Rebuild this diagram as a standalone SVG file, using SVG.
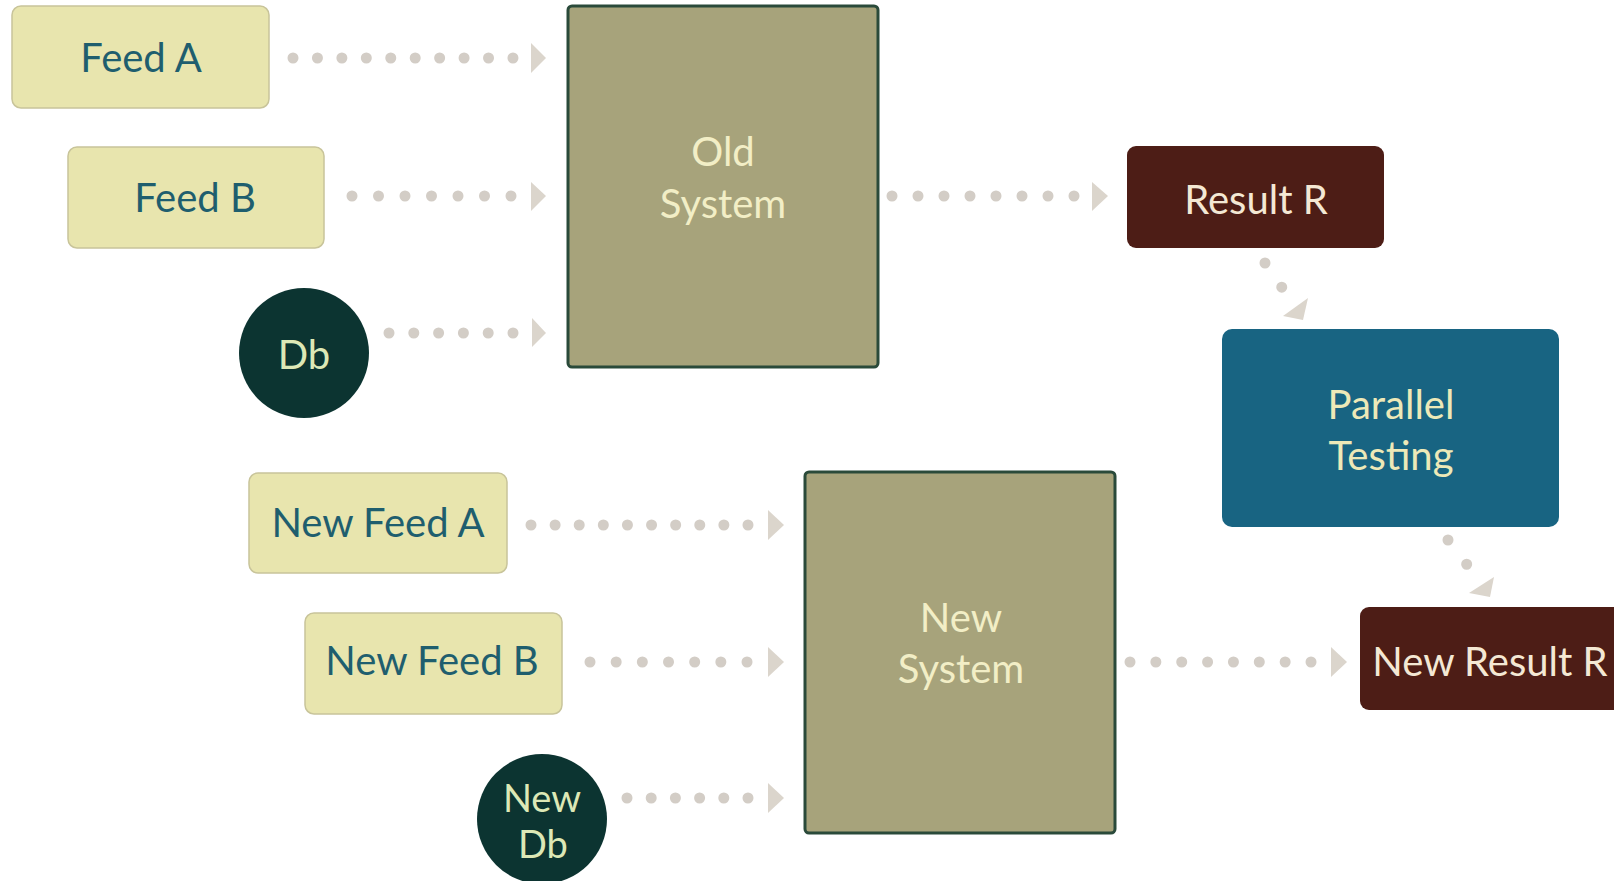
<svg xmlns="http://www.w3.org/2000/svg" width="1614" height="881" viewBox="0 0 1614 881">
<style>
  text { font-family: Lato, "Open Sans", "Liberation Sans", sans-serif; font-size: 40px; text-anchor: middle; }
  .feed { fill: #e8e5ae; stroke: #c8c49a; stroke-width: 1.5; }
  .feedt { fill: #1f5e6e; }
  .sys { fill: #a7a37b; stroke: #2a4a3a; stroke-width: 3; }
  .syst { fill: #f2eec6; }
  .db { fill: #0c3431; }
  .dbt { fill: #dde8b6; }
  .res { fill: #4d1d16; }
  .rest { fill: #f4e8d4; }
  .par { fill: #186482; }
  .part { fill: #ede9b8; }
  .dots { stroke: #d3cdc6; stroke-width: 11; stroke-linecap: round; fill: none; }
  .head { fill: #dbd5cc; }
</style>
<rect width="1614" height="881" fill="#ffffff"/>

<g id="connectors">
  <line class="dots" x1="293" y1="58" x2="515" y2="58" stroke-dasharray="0 24.44"/>
  <polygon class="head" points="531,43 546,58 531,73"/>
  <line class="dots" x1="352" y1="196" x2="513" y2="196" stroke-dasharray="0 26.5"/>
  <polygon class="head" points="531,182 546,196 531,211"/>
  <line class="dots" x1="389" y1="333" x2="515" y2="333" stroke-dasharray="0 24.8"/>
  <polygon class="head" points="532,318 546,333 532,347"/>
  <line class="dots" x1="892" y1="196" x2="1076" y2="196" stroke-dasharray="0 26"/>
  <polygon class="head" points="1092,182 1108,196 1092,211"/>
  <line class="dots" x1="1265" y1="263" x2="1283" y2="289" stroke-width="13" stroke-dasharray="0 29.41"/>
  <polygon class="head" points="1308,298 1283,316 1303,320"/>
  <line class="dots" x1="531" y1="525" x2="750" y2="525" stroke-dasharray="0 24.11"/>
  <polygon class="head" points="768,510 784,525 768,540"/>
  <line class="dots" x1="590" y1="662" x2="749" y2="662" stroke-dasharray="0 26.17"/>
  <polygon class="head" points="768,647 784,662 768,677"/>
  <line class="dots" x1="627" y1="798" x2="750" y2="798" stroke-dasharray="0 24.2"/>
  <polygon class="head" points="768,783 784,798 768,813"/>
  <line class="dots" x1="1130" y1="662" x2="1313" y2="662" stroke-dasharray="0 25.86"/>
  <polygon class="head" points="1331,647 1347,662 1331,677"/>
  <line class="dots" x1="1448" y1="540" x2="1468" y2="566" stroke-width="13" stroke-dasharray="0 30.61"/>
  <polygon class="head" points="1494,577 1469,593 1490,597"/>
</g>

<g id="feed-a">
  <rect class="feed" x="12" y="6" width="257" height="102" rx="9"/>
  <text class="feedt" x="141" y="72">Feed A</text>
</g>
<g id="feed-b">
  <rect class="feed" x="68" y="147" width="256" height="101" rx="9"/>
  <text class="feedt" x="195" y="212">Feed B</text>
</g>
<g id="db">
  <circle class="db" cx="304" cy="353" r="65"/>
  <text class="dbt" x="304" y="369">Db</text>
</g>
<g id="old-system">
  <rect class="sys" x="568" y="6" width="310" height="361" rx="4"/>
  <text class="syst"><tspan x="723" y="166">Old</tspan><tspan x="723" y="218">System</tspan></text>
</g>
<g id="result-r">
  <rect class="res" x="1127" y="146" width="257" height="102" rx="9"/>
  <text class="rest" x="1256" y="214">Result R</text>
</g>
<g id="parallel-testing">
  <rect class="par" x="1222" y="329" width="337" height="198" rx="10"/>
  <text class="part"><tspan x="1391" y="419">Parallel</tspan><tspan x="1391" y="470">Testing</tspan></text>
</g>
<g id="new-feed-a">
  <rect class="feed" x="249" y="473" width="258" height="100" rx="9"/>
  <text class="feedt" x="378" y="537">New Feed A</text>
</g>
<g id="new-feed-b">
  <rect class="feed" x="305" y="613" width="257" height="101" rx="9"/>
  <text class="feedt" x="432" y="675">New Feed B</text>
</g>
<g id="new-db">
  <circle class="db" cx="542" cy="819" r="65"/>
  <text class="dbt" style="font-size:38px"><tspan x="542" y="812">New</tspan><tspan x="543" y="858">Db</tspan></text>
</g>
<g id="new-system">
  <rect class="sys" x="805" y="472" width="310" height="361" rx="4"/>
  <text class="syst"><tspan x="961" y="632">New</tspan><tspan x="961" y="683">System</tspan></text>
</g>
<g id="new-result-r">
  <rect class="res" x="1360" y="607" width="264" height="103" rx="9"/>
  <text class="rest" x="1490" y="676">New Result R</text>
</g>
</svg>
